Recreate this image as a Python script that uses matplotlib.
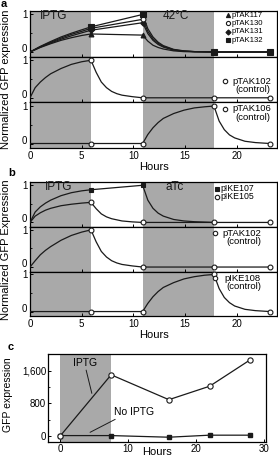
import matplotlib
matplotlib.use("Agg")
import matplotlib.pyplot as plt
import numpy as np

# Time-course of GFP expression in toggle / memory constructs.
# Curves at a handful of times.

SHADE = "#a9a9a9"
INK = "#1a1a1a"

# ---- panel a, top: four constructs ----
T_A1 = [0, 1, 2, 3, 4, 5, 5.9, 10.9, 11.4, 11.9, 12.4, 12.9, 13.9, 14.9, 15.9, 17.8, 23.2]
PTAK132 = [0, 0.15, 0.28, 0.40, 0.50, 0.59, 0.67, 1.00, 0.62, 0.40, 0.26, 0.17, 0.07, 0.03, 0.01, 0, 0]
PTAK130 = [0, 0.14, 0.26, 0.37, 0.47, 0.55, 0.63, 0.87, 0.55, 0.35, 0.23, 0.15, 0.06, 0.025, 0.01, 0, 0]
PTAK131 = [0, 0.13, 0.24, 0.34, 0.43, 0.51, 0.58, 0.78, 0.49, 0.31, 0.20, 0.13, 0.05, 0.02, 0.01, 0, 0]
PTAK117 = [0, 0.12, 0.22, 0.31, 0.38, 0.44, 0.48, 0.45, 0.29, 0.18, 0.12, 0.08, 0.03, 0.01, 0.005, 0, 0]
SAMPLE_HOURS = [5.9, 10.9, 17.8, 23.2]

# ---- control pTAK102 (IPTG-switched) ----
T_102 = [0, 0.5, 1, 1.5, 2, 3, 4, 5, 5.9, 6.4, 6.9, 7.4, 7.9, 8.4, 8.9, 9.9, 10.9, 17.8, 23.2]
PTAK102_A = [0, 0.27, 0.42, 0.54, 0.64, 0.78, 0.89, 0.96, 1.0, 0.68, 0.42, 0.27, 0.17, 0.11, 0.07, 0.03, 0, 0, 0]
PTAK102_B = [0, 0.17, 0.33, 0.45, 0.55, 0.72, 0.85, 0.94, 1.0, 0.68, 0.42, 0.27, 0.17, 0.11, 0.07, 0.03, 0, 0, 0]

# ---- controls switched in the second window ----
T_LATE = [0, 5.9, 10.9, 11.4, 11.9, 12.4, 12.9, 13.9, 14.9, 15.9, 16.9, 17.8,
          18.3, 18.8, 19.3, 19.8, 20.8, 21.8, 23.2]
PTAK106 = [0, 0, 0, 0.24, 0.42, 0.56, 0.67, 0.80, 0.89, 0.95, 0.98, 1.0,
           0.60, 0.37, 0.23, 0.15, 0.06, 0.025, 0]
PIKE108 = [0, 0, 0, 0.22, 0.40, 0.54, 0.65, 0.78, 0.88, 0.94, 0.98, 1.0,
           0.62, 0.38, 0.24, 0.15, 0.06, 0.025, 0]

# ---- panel b, top ----
T_107 = [0, 0.5, 1, 1.5, 2, 3, 4, 5, 5.9, 10.9, 11.4, 11.9, 12.4, 12.9, 13.9, 14.9, 15.9, 17.8]
PIKE107 = [0, 0.28, 0.42, 0.52, 0.60, 0.72, 0.80, 0.85, 0.88, 1.0, 0.60, 0.38, 0.25, 0.17, 0.08, 0.04, 0.02, 0]
PIKE107_HOURS = [5.9, 10.9]
T_105 = [0, 0.5, 1, 1.5, 2, 3, 4, 5, 5.9, 6.4, 6.9, 7.4, 7.9, 8.9, 9.9, 10.9, 17.8, 23.2]
PIKE105 = [0, 0.17, 0.26, 0.33, 0.38, 0.45, 0.49, 0.52, 0.54, 0.37, 0.23, 0.15, 0.10, 0.04, 0.015, 0, 0, 0]

# ---- panel c ----
C_HOURS = [0, 7.5, 16, 22, 28]
C_IPTG = [0, 1500, 890, 1220, 1870]
C_NO_IPTG = [10, 10, -30, 20, 20]

W, H = 278, 458


def px_axes(fig, left, top, right, bottom):
    return fig.add_axes([left / W, 1 - bottom / H, (right - left) / W, (bottom - top) / H])


def marks(ax, t, y, keep, marker, filled, ms=3.5):
    t = np.asarray(t, float)
    y = np.asarray(y, float)
    sel = np.isin(t, keep)
    ax.plot(t, y, "-", color=INK, lw=0.9, zorder=3)
    ax.plot(t[sel], y[sel], marker, ls="none", ms=ms, mew=0.8, mec=INK,
            mfc=INK if filled else "white", zorder=4, clip_on=False)


def key(ax, x, y, marker, filled, ms=3.2):
    ax.plot([x], [y], marker, ms=ms, mew=0.8, mec=INK, mfc=INK if filled else "white",
            transform=ax.transAxes, clip_on=False, zorder=5)


def style_strip(ax, ylim, last):
    ax.set_xlim(0, 23.9)
    ax.set_ylim(*ylim)
    ax.set_yticks([0, 1])
    ax.set_yticks([0.5], minor=True)
    ax.set_xticks([0, 5, 10, 15, 20])
    ax.tick_params(direction="in", length=2.5, width=0.7, labelsize=7, pad=2)
    ax.tick_params(which="minor", direction="in", length=1.5, width=0.6)
    # the "0" sits a little above its tick so it clears the "1" below it
    ax.yaxis.get_major_ticks()[0].label1.set_verticalalignment("baseline")
    if not last:
        ax.tick_params(labelbottom=False)
    for s in ax.spines.values():
        s.set_linewidth(0.9)


def main():
    plt.rcParams["font.family"] = ["Liberation Sans", "DejaVu Sans"]
    fig = plt.figure(figsize=(W / 100, H / 100), dpi=100)

    # ---------------- panel a ----------------
    edges_a = [10.7, 56.5, 102.3, 148]
    ax_a = [px_axes(fig, 30, edges_a[i], 277, edges_a[i + 1]) for i in range(3)]
    for i, ax in enumerate(ax_a):
        ax.axvspan(0, 5.9, color=SHADE, lw=0, zorder=0)
        ax.axvspan(10.9, 17.8, color=SHADE, lw=0, zorder=0)
        style_strip(ax, (-0.12, 1.1), i == 2)

    ax = ax_a[0]
    marks(ax, T_A1, PTAK117, SAMPLE_HOURS, "^", True)
    marks(ax, T_A1, PTAK131, SAMPLE_HOURS, "D", True, ms=2.8)
    marks(ax, T_A1, PTAK130, SAMPLE_HOURS, "o", False)
    marks(ax, T_A1, PTAK132, SAMPLE_HOURS, "s", True, ms=4)
    ax.text(2.3, 0.88, "IPTG", transform=ax.get_xaxis_transform(), fontsize=8.5,
            ha="center", va="center", color=INK)
    ax.text(14.1, 0.88, "42°C", transform=ax.get_xaxis_transform(), fontsize=8.5,
            ha="center", va="center", color=INK)
    for yy, mk, fl, lab in [(0.905, "^", True, "pTAK117"), (0.725, "o", False, "pTAK130"),
                            (0.54, "D", True, "pTAK131"), (0.36, "s", True, "pTAK132")]:
        key(ax, 0.80, yy, mk, fl, ms=2.6 if mk == "D" else 3)
        ax.text(0.815, yy, lab, transform=ax.transAxes, fontsize=5.6, va="center")

    ax = ax_a[1]
    marks(ax, T_102, PTAK102_A, SAMPLE_HOURS, "o", False)
    key(ax, 0.79, 0.46, "o", False)
    ax.text(0.975, 0.46, "pTAK102", transform=ax.transAxes, fontsize=6.8, ha="right", va="center")
    ax.text(0.975, 0.27, "(control)", transform=ax.transAxes, fontsize=6.8, ha="right", va="center")

    ax = ax_a[2]
    marks(ax, T_LATE, PTAK106, SAMPLE_HOURS, "o", False)
    key(ax, 0.79, 0.86, "o", False)
    ax.text(0.975, 0.86, "pTAK106", transform=ax.transAxes, fontsize=6.8, ha="right", va="center")
    ax.text(0.975, 0.67, "(control)", transform=ax.transAxes, fontsize=6.8, ha="right", va="center")
    ax.set_xlabel("Hours", fontsize=8, labelpad=1)

    fig.text(6 / W, 1 - 79 / H, "Normalized GFP expression", rotation=90, fontsize=8,
             ha="center", va="center")
    fig.text(1 / W, 1 - 4 / H, "a", fontsize=8, fontweight="bold", va="center")

    # ---------------- panel b ----------------
    edges_b = [182.3, 226.9, 271.5, 316]
    ax_b = [px_axes(fig, 30, edges_b[i], 277, edges_b[i + 1]) for i in range(3)]
    for i, ax in enumerate(ax_b):
        ax.axvspan(0, 5.9, color=SHADE, lw=0, zorder=0)
        ax.axvspan(10.9, 17.8, color=SHADE, lw=0, zorder=0)
        style_strip(ax, (-0.12, 1.08), i == 2)

    ax = ax_b[0]
    marks(ax, T_107, PIKE107, PIKE107_HOURS, "s", True, ms=3)
    marks(ax, T_105, PIKE105, SAMPLE_HOURS, "o", False)
    ax.text(2.8, 0.89, "IPTG", transform=ax.get_xaxis_transform(), fontsize=8.5,
            ha="center", va="center", color=INK)
    ax.text(14.0, 0.89, "aTc", transform=ax.get_xaxis_transform(), fontsize=8.5,
            ha="center", va="center", color=INK)
    key(ax, 0.757, 0.86, "s", True, ms=2.8)
    ax.text(0.772, 0.86, "pIKE107", transform=ax.transAxes, fontsize=6.3, va="center")
    key(ax, 0.757, 0.68, "o", False)
    ax.text(0.772, 0.68, "pIKE105", transform=ax.transAxes, fontsize=6.3, va="center")

    ax = ax_b[1]
    marks(ax, T_102, PTAK102_B, SAMPLE_HOURS, "o", False)
    key(ax, 0.75, 0.855, "o", False)
    ax.text(0.935, 0.855, "pTAK102", transform=ax.transAxes, fontsize=6.8, ha="right", va="center")
    ax.text(0.935, 0.67, "(control)", transform=ax.transAxes, fontsize=6.8, ha="right", va="center")

    ax = ax_b[2]
    marks(ax, T_LATE, PIKE108, SAMPLE_HOURS, "o", False)
    key(ax, 0.75, 0.85, "o", False)
    ax.text(0.935, 0.85, "pIKE108", transform=ax.transAxes, fontsize=6.8, ha="right", va="center")
    ax.text(0.935, 0.66, "(control)", transform=ax.transAxes, fontsize=6.8, ha="right", va="center")
    ax.set_xlabel("Hours", fontsize=8, labelpad=1)

    fig.text(6 / W, 1 - 250 / H, "Normalized GFP Expression", rotation=90, fontsize=8,
             ha="center", va="center")
    fig.text(8 / W, 1 - 173 / H, "b", fontsize=8, fontweight="bold", va="center")

    # ---------------- panel c ----------------
    ax = px_axes(fig, 48.3, 354, 266, 441.7)
    ax.axvspan(0, 7.5, color=SHADE, lw=0, zorder=0)
    ax.plot(C_HOURS, C_NO_IPTG, "s-", color=INK, lw=0.9, ms=3, mfc=INK, mec=INK, zorder=3)
    ax.plot(C_HOURS, C_IPTG, "o-", color=INK, lw=0.9, ms=3.8, mfc="white", mec=INK,
            mew=0.8, zorder=4)
    ax.set_xlim(-1.75, 30.3)
    ax.set_ylim(-140, 2010)
    ax.set_xticks([0, 10, 20, 30])
    ax.set_yticks([0, 800, 1600])
    ax.set_yticklabels(["0", "800", "1,600"])
    ax.set_yticks([400, 1200], minor=True)
    ax.tick_params(direction="in", length=2.5, width=0.7, labelsize=7, pad=1.5)
    ax.tick_params(which="minor", direction="in", length=1.5, width=0.6)
    for s in ax.spines.values():
        s.set_linewidth(0.9)
    ax.text(3.6, 1790, "IPTG", fontsize=7.5, ha="center", va="center")
    ax.annotate("", xy=(4.66, 1045), xytext=(3.82, 1615),
                arrowprops=dict(arrowstyle="-", lw=0.7, color=INK, shrinkA=0, shrinkB=0))
    ax.text(10.9, 594, "No IPTG", fontsize=7.5, ha="center", va="center")
    ax.annotate("", xy=(4.4, 90), xytext=(8.1, 408),
                arrowprops=dict(arrowstyle="-", lw=0.7, color=INK, shrinkA=0, shrinkB=0))
    # x label pinned to the bottom edge (it sits right against it in the original)
    fig.text(157 / W, 1 / H, "Hours", fontsize=8, ha="center", va="bottom")
    fig.text(8 / W, 1 - 395 / H, "GFP expression", rotation=90, fontsize=7.5,
             ha="center", va="center")
    fig.text(8 / W, 1 - 347 / H, "c", fontsize=8, fontweight="bold", va="center")

    fig.savefig("out.png", dpi=100)
    plt.close(fig)


if __name__ == "__main__":
    main()
